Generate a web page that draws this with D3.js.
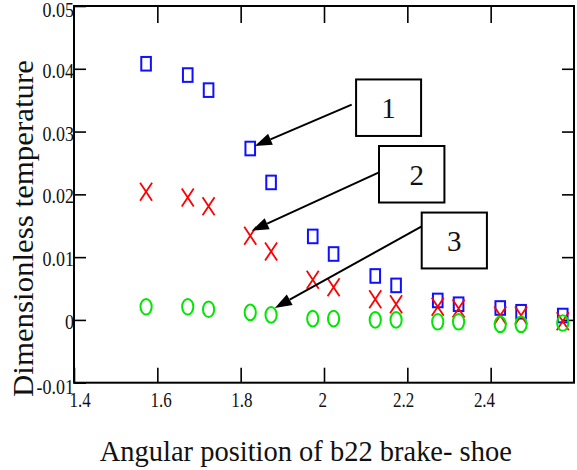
<!DOCTYPE html>
<html>
<head>
<meta charset="utf-8">
<script src="https://cdn.jsdelivr.net/npm/d3@7"></script>
<style>
  html, body { margin: 0; padding: 0; background: #fff; }
  svg { display: block; }
  svg text { font-family: "Liberation Serif", "Times New Roman", serif !important; }
</style>
</head>
<body>
<svg id="chart" width="577" height="470"></svg>
<script>
// ---- data ----
const angles = [1.573, 1.673, 1.723, 1.823, 1.873, 1.973, 2.023, 2.123, 2.173, 2.273, 2.323, 2.423, 2.473, 2.573];
const curve1 = [0.0408, 0.0390, 0.0366, 0.0273, 0.0219, 0.0133, 0.0105, 0.0070, 0.0055, 0.0031, 0.0025, 0.0019, 0.0013, 0.0007];
const curve2 = [0.0204, 0.0195, 0.0181, 0.0134, 0.0109, 0.0064, 0.0052, 0.0033, 0.0025, 0.0021, 0.0018, 0.0007, 0.0007, -0.0002];
const curve3 = [0.0021, 0.0021, 0.0017, 0.0012, 0.0008, 0.0002, 0.0002, 0.0000, 0.0000, -0.0003, -0.0003, -0.0007, -0.0007, -0.0005];

const xTicks = [1.4, 1.6, 1.8, 2.0, 2.2, 2.4];
const xTickLabels = ["1.4", "1.6", "1.8", "2", "2.2", "2.4"];
const yTicks = [-0.01, 0, 0.01, 0.02, 0.03, 0.04, 0.05];
const yTickLabels = ["-0.01", "0", "0.01", "0.02", "0.03", "0.04", "0.05"];

const xTitle = "Angular position of b22 brake- shoe";
const yTitle = "Dimensionless temperature";

// annotation callouts in data units: label, box [x0,x1,y0,y1], tail, tip
const calloutLabels = ["1", "2", "3"];
const calloutBoxes = [[2.077, 2.233, 0.0383, 0.0293], [2.132, 2.289, 0.0277, 0.0187], [2.2345, 2.391, 0.0171, 0.0082]];
const calloutTails = [[2.0665, 0.0343], [2.132, 0.0235], [2.2345, 0.0149]];
const calloutTips = [[1.834, 0.0277], [1.8265, 0.0142], [1.882, 0.0019]];

// ---- scales ----
const svg = d3.select("#chart");
const x = d3.scaleLinear().domain([1.4, 2.6]).range([74, 574]);
const y = d3.scaleLinear().domain([-0.01, 0.05]).range([382.7, 6]);
const xLabelPos = d3.scaleLinear().domain([1.4, 2.4]).range([79.7, 484]);

const fmtX = d => xTickLabels[xTicks.indexOf(d)];
const fmtY = d => yTickLabels[yTicks.findIndex(v => Math.abs(v - d) < 1e-9)];
const serif = '"Liberation Serif", "Times New Roman", serif';

// ---- axes (ticks) ----
const tickStroke = 1.6;
// bottom
const gB = svg.append("g").attr("transform", `translate(0,${y(-0.01)})`)
  .call(d3.axisBottom(x).tickValues(xTicks).tickSize(-15).tickFormat(fmtX));
gB.attr("font-family", null).attr("font-size", null);
gB.select(".domain").remove();
gB.selectAll(".tick line").attr("stroke", "#000").attr("stroke-width", tickStroke);
gB.selectAll(".tick text")
  .attr("y", null).attr("dy", null)
  .attr("text-anchor", "middle")
  .style("font-size", "17px").style("font-family", serif).attr("fill", "#111")
  .attr("transform", d => `translate(${xLabelPos(d) - x(d)},24.5) scale(1,1.2)`);
// top
const gT = svg.append("g").attr("transform", `translate(0,${y(0.05)})`)
  .call(d3.axisTop(x).tickValues(xTicks.slice(1)).tickSize(-17).tickFormat(""));
gT.select(".domain").remove();
gT.selectAll(".tick line").attr("stroke", "#000").attr("stroke-width", tickStroke);
// left
const gL = svg.append("g").attr("transform", `translate(${x(1.4)},0)`)
  .call(d3.axisLeft(y).tickValues(yTicks).tickSize(-12).tickFormat(fmtY));
gL.attr("font-family", null).attr("font-size", null);
gL.select(".domain").remove();
gL.selectAll(".tick line").attr("stroke", "#000").attr("stroke-width", tickStroke);
gL.selectAll(".tick text")
  .attr("x", null).attr("dy", null)
  .attr("text-anchor", "end")
  .style("font-size", "18px").style("font-family", serif).attr("fill", "#111")
  .attr("transform", d => `translate(0,${(d === 0.05 || d === -0.01) ? 10.5 : 8.5}) scale(1,1.15)`);
// right
const gR = svg.append("g").attr("transform", `translate(${x(2.6)},0)`)
  .call(d3.axisRight(y).tickValues(yTicks.slice(1, -1)).tickSize(-12).tickFormat(""));
gR.select(".domain").remove();
gR.selectAll(".tick line").attr("stroke", "#000").attr("stroke-width", tickStroke);

// frame
svg.append("rect")
  .attr("x", x(1.4)).attr("y", y(0.05))
  .attr("width", x(2.6) - x(1.4)).attr("height", y(-0.01) - y(0.05))
  .attr("fill", "none").attr("stroke", "#000").attr("stroke-width", 2);

// ---- markers ----
const idx = d3.range(angles.length);
// curve 1: blue rectangles
svg.append("g").selectAll("rect").data(idx).join("rect")
  .attr("x", i => x(angles[i]) - 4.8).attr("y", i => y(curve1[i]) - 6.8)
  .attr("width", 9.6).attr("height", 13.6)
  .attr("fill", "none").attr("stroke", "#1010ff").attr("stroke-width", 2);
// curve 2: red crosses
svg.append("g").selectAll("path").data(idx).join("path")
  .attr("d", i => {
    const cx = x(angles[i]), cy = y(curve2[i]);
    return `M${cx - 6},${cy - 9}L${cx + 6},${cy + 9}M${cx - 6},${cy + 9}L${cx + 6},${cy - 9}`;
  })
  .attr("fill", "none").attr("stroke", "#ff0000").attr("stroke-width", 1.8);
// curve 3: green ellipses
svg.append("g").selectAll("ellipse").data(idx).join("ellipse")
  .attr("cx", i => x(angles[i])).attr("cy", i => y(curve3[i]))
  .attr("rx", 5.6).attr("ry", 7.8)
  .attr("fill", "none").attr("stroke", "#00e600").attr("stroke-width", 2);

// ---- callouts ----
const gC = svg.append("g");
calloutLabels.forEach((lab, k) => {
  const [tx, ty] = calloutTails[k].map((v, j) => j === 0 ? x(v) : y(v));
  const [px, py] = calloutTips[k].map((v, j) => j === 0 ? x(v) : y(v));
  const ang = Math.atan2(py - ty, px - tx);
  const L = 17, W = 6;
  const bx = px - L * Math.cos(ang), by = py - L * Math.sin(ang);
  gC.append("line")
    .attr("x1", tx).attr("y1", ty).attr("x2", bx).attr("y2", by)
    .attr("stroke", "#000").attr("stroke-width", 2);
  gC.append("path")
    .attr("d", `M${px},${py}L${bx + W * Math.sin(ang)},${by - W * Math.cos(ang)}L${bx - W * Math.sin(ang)},${by + W * Math.cos(ang)}Z`)
    .attr("fill", "#000");
  const b = calloutBoxes[k];
  gC.append("rect")
    .attr("x", x(b[0])).attr("y", y(b[2]))
    .attr("width", x(b[1]) - x(b[0])).attr("height", y(b[3]) - y(b[2]))
    .attr("fill", "#fff").attr("stroke", "#000").attr("stroke-width", 2);
  const shift = k === 1 ? 5 : 0;
  gC.append("text")
    .attr("x", (x(b[0]) + x(b[1])) / 2 + shift)
    .attr("y", (y(b[2]) + y(b[3])) / 2 + 10.5)
    .attr("text-anchor", "middle")
    .style("font-size", "29px").style("font-family", serif).attr("fill", "#111")
    .text(lab);
});

// ---- titles ----
svg.append("text")
  .attr("x", 305.8).attr("y", 461)
  .attr("text-anchor", "middle")
  .style("font-size", "28.5px").style("font-family", serif).attr("fill", "#111")
  .attr("textLength", 412).attr("lengthAdjust", "spacingAndGlyphs")
  .text(xTitle);
svg.append("text")
  .attr("transform", "translate(33,228.5) rotate(-90)")
  .attr("text-anchor", "middle")
  .style("font-size", "28.5px").style("font-family", serif).attr("fill", "#111")
  .attr("textLength", 337).attr("lengthAdjust", "spacingAndGlyphs")
  .text(yTitle);
</script>
</body>
</html>
